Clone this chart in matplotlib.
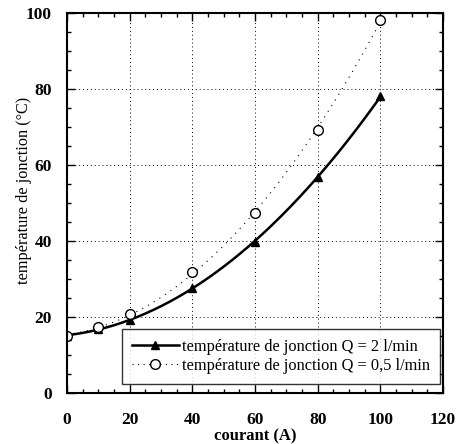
import numpy as np
import matplotlib.pyplot as plt
from matplotlib.ticker import MultipleLocator

# courant (A) and junction temperature (deg C)
courant = [0, 10, 20, 40, 60, 80, 100]
temp_q2 = [15.0, 16.8, 19.3, 27.7, 39.8, 56.7, 78.0]
temp_q05 = [15.0, 17.3, 20.8, 31.7, 47.4, 69.2, 98.0]

label_q2 = 'température de jonction Q = 2 l/min'
label_q05 = 'température de jonction Q = 0,5 l/min'

plt.rcParams['font.family'] = ['Liberation Serif', 'DejaVu Serif']

fig = plt.figure(figsize=(4.59, 4.44), dpi=100)
ax = fig.add_axes([0.146, 0.115, 0.819, 0.856])

# trendlines (polynomial fit of the measured points)
xs = np.linspace(0, 100, 200)
fit_q2 = np.polyval(np.polyfit(courant, temp_q2, 2), xs)
fit_q05 = np.polyval(np.polyfit(courant, temp_q05, 2), xs)

ax.plot(xs, fit_q2, color='black', lw=1.8)
ax.plot(xs, fit_q05, color='black', lw=0.8, ls=(0, (1, 5)))
ax.plot(courant, temp_q2, ls='none', marker='^', ms=6, color='black')
ax.plot(courant, temp_q05, ls='none', marker='o', ms=7, mfc='white',
        mec='black', mew=1.0)

# legend proxies
h1, = ax.plot([], [], color='black', lw=1.8, marker='^', ms=6)
h2, = ax.plot([], [], color='black', lw=0.8, ls=(0, (1, 4)), marker='o',
              ms=7, mfc='white', mec='black')
leg = ax.legend([h1, h2], [label_q2, label_q05], loc='lower right',
                bbox_to_anchor=(0.993, 0.024), borderaxespad=0,
                fontsize=11.8, frameon=True, fancybox=False, borderpad=0.6,
                handlelength=2.9, handletextpad=0.2, labelspacing=0.2)
leg.get_frame().set_edgecolor('black')
leg.get_frame().set_linewidth(1.0)

ax.set_xlim(0, 120)
ax.set_ylim(0, 100)
ax.xaxis.set_major_locator(MultipleLocator(20))
ax.yaxis.set_major_locator(MultipleLocator(20))
ax.xaxis.set_minor_locator(MultipleLocator(5))
ax.yaxis.set_minor_locator(MultipleLocator(5))
ax.tick_params(which='both', direction='in', top=True, right=True,
               labelsize=12.5, width=1.0)
ax.tick_params(axis='x', which='major', length=6, pad=14)
ax.tick_params(axis='y', which='major', length=6, pad=11)
ax.tick_params(which='minor', length=3)
for lab in ax.get_xticklabels() + ax.get_yticklabels():
    lab.set_fontweight('bold')

ax.grid(True, which='major', color='black', ls=(0, (1, 3)), lw=0.7)
for s in ax.spines.values():
    s.set_linewidth(1.5)

ax.set_xlabel('courant (A)', fontsize=12, fontweight='bold', labelpad=0)
ax.set_ylabel('température de jonction (°C)', fontsize=11.7)
ax.yaxis.set_label_coords(-0.093, 0.532)

fig.savefig('out.png', dpi=100)
